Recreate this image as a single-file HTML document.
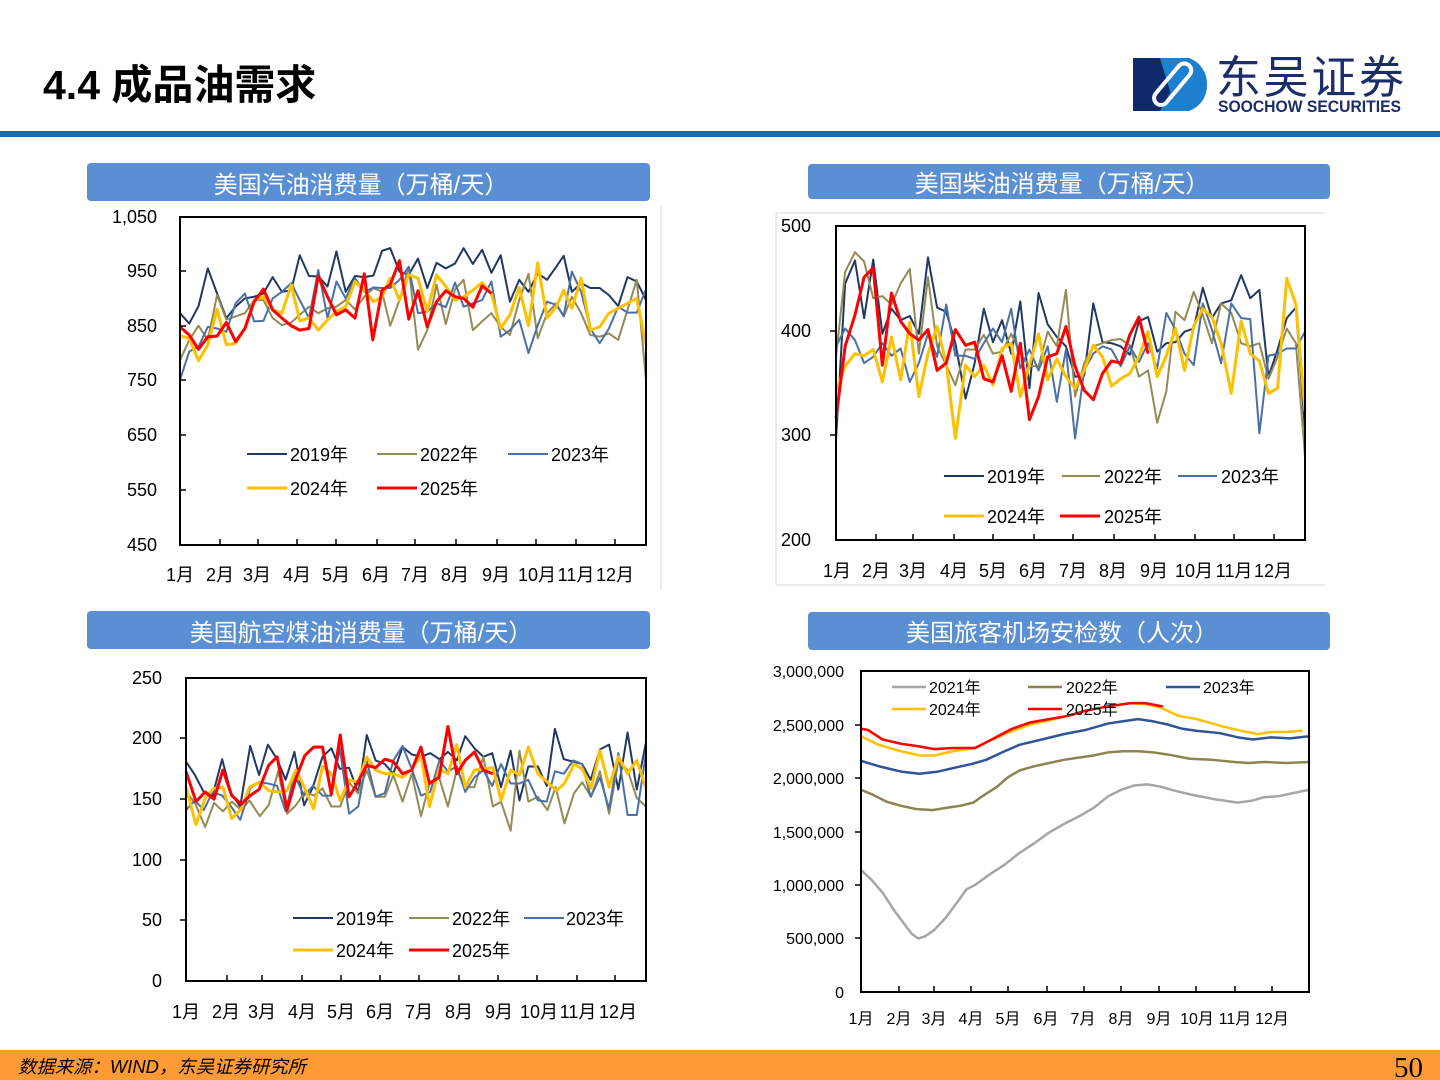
<!DOCTYPE html>
<html><head><meta charset="utf-8">
<style>
html,body{margin:0;padding:0;background:#fff;}
body{width:1440px;height:1080px;position:relative;overflow:hidden;font-family:"Liberation Sans","Noto Sans CJK SC",sans-serif;}
svg text{font-family:"Liberation Sans","Noto Sans CJK SC",sans-serif;}
</style></head><body>
<svg width="1440" height="1080" viewBox="0 0 1440 1080" xmlns="http://www.w3.org/2000/svg" style="position:absolute;left:0;top:0">
<!-- header -->
<text x="43" y="99" font-size="41" font-weight="bold" fill="#000">4.4 成品油需求</text>
<rect x="0" y="131" width="1440" height="6" fill="#0a6fc0"/>
<!-- logo -->
<rect x="1133" y="58" width="56" height="53" fill="#0e2a6b"/>
<path d="M1176 58 A27 27 0 0 1 1176 111 L1160 111 L1189 58 Z" fill="#1c7fd0"/>
<path d="M1160 58 L1189 58 A27 27 0 0 1 1207 84 A27 27 0 0 1 1189 111 L1176 111 Z" fill="#1c7fd0"/>
<g transform="rotate(-50 1172 85)">
<rect x="1148" y="78" width="50" height="14" rx="7" fill="none" stroke="#fff" stroke-width="4"/>
</g>
<text x="1216" y="93" font-size="45" fill="#1b2d6b" font-family="Noto Sans CJK SC, sans-serif" textLength="188">东吴证券</text>
<text x="1218" y="112" font-size="17" font-weight="bold" fill="#1b2d6b" textLength="183" lengthAdjust="spacingAndGlyphs">SOOCHOW SECURITIES</text>

<!-- title bars -->
<rect x="87" y="163" width="563" height="38" rx="4" fill="#5b8fd4"/>
<text x="361" y="193" font-size="24" fill="#fff" text-anchor="middle">美国汽油消费量（万桶/天）</text>
<rect x="808" y="164" width="522" height="35" rx="4" fill="#5b8fd4"/>
<text x="1062" y="192" font-size="24" fill="#fff" text-anchor="middle">美国柴油消费量（万桶/天）</text>
<rect x="87" y="611" width="563" height="38" rx="4" fill="#5b8fd4"/>
<text x="361" y="641" font-size="24" fill="#fff" text-anchor="middle">美国航空煤油消费量（万桶/天）</text>
<rect x="808" y="612" width="522" height="38" rx="4" fill="#5b8fd4"/>
<text x="1062" y="641" font-size="24" fill="#fff" text-anchor="middle">美国旅客机场安检数（人次）</text>

<!-- frames -->
<line x1="661" y1="205" x2="661" y2="590" stroke="#d9d9d9" stroke-width="1"/>
<path d="M776 213 H1325 M776 213 V585 M776 585 H1325" stroke="#d9d9d9" stroke-width="1" fill="none"/>

<!-- ================= CHART 1 ================= -->
<g font-size="18" fill="#000">
<text x="157" y="223" text-anchor="end">1,050</text>
<text x="157" y="277" text-anchor="end">950</text>
<text x="157" y="332" text-anchor="end">850</text>
<text x="157" y="386" text-anchor="end">750</text>
<text x="157" y="441" text-anchor="end">650</text>
<text x="157" y="496" text-anchor="end">550</text>
<text x="157" y="551" text-anchor="end">450</text>
</g>
<g font-size="18" fill="#000" text-anchor="middle">
<text x="180" y="581">1月</text><text x="220" y="581">2月</text><text x="257" y="581">3月</text><text x="297" y="581">4月</text><text x="336" y="581">5月</text><text x="376" y="581">6月</text><text x="415" y="581">7月</text><text x="455" y="581">8月</text><text x="496" y="581">9月</text><text x="537" y="581">10月</text><text x="576" y="581">11月</text><text x="615" y="581">12月</text>
</g>
<g fill="none" stroke-linejoin="round" transform="matrix(0.37073 0 0 -0.5467 89.91 791.0)">
<polyline vector-effect="non-scaling-stroke" stroke="#1f3864" stroke-width="2" points="243,874 268,855 293,887 318,956 343,910 368,865 393,886 418,901 443,904 468,910 493,940 518,913 543,916 566,980 591,942 616,941 641,923 665,987 690,913 715,942 740,940 765,943 788,988 810,993 835,950 860,944 885,974 910,920 935,966 960,956 985,965 1008,993 1033,964 1058,990 1083,948 1108,980 1133,895 1158,935 1183,913 1208,947 1233,935 1258,959 1278,979 1300,913 1325,929 1350,920 1375,920 1400,907 1425,887 1450,940 1475,932 1500,898"/>
<polyline vector-effect="non-scaling-stroke" stroke="#948a54" stroke-width="2" points="243,788 268,825 293,851 318,825 343,907 368,862 393,868 418,874 443,898 468,898 493,865 518,852 543,857 566,871 591,886 616,874 641,883 665,886 690,898 715,881 740,904 765,920 788,913 810,851 835,898 860,959 885,807 910,843 935,926 960,854 985,918 1008,935 1033,843 1058,859 1083,874 1108,849 1133,834 1158,898 1183,946 1208,828 1233,874 1258,892 1278,868 1300,904 1325,874 1350,834 1375,831 1400,837 1425,825 1450,880 1475,935 1500,752"/>
<polyline vector-effect="non-scaling-stroke" stroke="#4a70a8" stroke-width="2" points="243,752 268,804 293,813 318,849 343,846 368,840 393,892 418,910 443,859 468,860 493,901 518,913 543,929 566,898 591,865 616,953 641,865 665,932 690,901 715,938 740,913 765,921 788,920 810,920 835,935 860,959 885,874 910,877 935,892 960,885 985,930 1008,886 1033,892 1058,898 1083,932 1108,831 1133,843 1158,862 1183,801 1208,852 1233,895 1258,889 1278,869 1300,950 1325,913 1350,846 1375,819 1400,846 1425,886 1450,875 1475,875 1500,918"/>
<polyline vector-effect="non-scaling-stroke" stroke="#ffc000" stroke-width="3" points="243,832 268,828 293,787 318,816 343,881 368,816 393,819 418,846 443,898 468,904 493,880 518,874 543,926 566,860 591,865 616,843 641,862 665,877 690,886 715,932 740,916 765,895 788,904 810,938 835,898 860,944 885,938 910,877 935,944 960,923 985,898 1008,904 1033,916 1058,930 1083,910 1108,846 1133,871 1158,921 1183,851 1208,966 1233,865 1258,886 1278,916 1300,883 1325,938 1350,843 1375,849 1400,874 1425,883 1450,892 1475,901 1500,816"/>
<polyline vector-effect="non-scaling-stroke" stroke="#ff0000" stroke-width="3" points="243,849 268,834 293,808 318,831 343,832 368,857 393,822 418,846 443,895 468,918 493,880 518,865 543,851 566,843 591,846 616,942 641,904 665,871 690,880 715,865 740,946 763,825 788,916 810,926 835,970 860,863 885,915 910,849 935,895 960,915 985,904 1008,901 1033,885 1058,924 1083,910"/>
</g>
<rect x="180" y="217" width="466" height="328" fill="none" stroke="#000" stroke-width="2"/>
<path d="M220 545v-6M258 545v-6M297 545v-6M336 545v-6M377 545v-6M415 545v-6M456 545v-6M497 545v-6M536 545v-6M576 545v-6M615 545v-6M180 271h6M180 326h6M180 380h6M180 435h6M180 490h6" stroke="#000" stroke-width="1.5"/>
<g font-size="18" fill="#000">
<line x1="247" y1="454" x2="287" y2="454" stroke="#1f3864" stroke-width="2"/><text x="290" y="461">2019年</text>
<line x1="377" y1="454" x2="417" y2="454" stroke="#948a54" stroke-width="2"/><text x="420" y="461">2022年</text>
<line x1="508" y1="454" x2="548" y2="454" stroke="#4a70a8" stroke-width="2"/><text x="551" y="461">2023年</text>
<line x1="247" y1="488" x2="287" y2="488" stroke="#ffc000" stroke-width="3"/><text x="290" y="495">2024年</text>
<line x1="377" y1="488" x2="417" y2="488" stroke="#ff0000" stroke-width="3"/><text x="420" y="495">2025年</text>
</g>

<!-- ================= CHART 2 ================= -->
<g font-size="18" fill="#000">
<text x="781" y="232">500</text>
<text x="781" y="337">400</text>
<text x="781" y="441">300</text>
<text x="781" y="546">200</text>
</g>
<g font-size="18" fill="#000" text-anchor="middle">
<text x="837" y="577">1月</text><text x="876" y="577">2月</text><text x="913" y="577">3月</text><text x="954" y="577">4月</text><text x="993" y="577">5月</text><text x="1033" y="577">6月</text><text x="1073" y="577">7月</text><text x="1113" y="577">8月</text><text x="1154" y="577">9月</text><text x="1194" y="577">10月</text><text x="1234" y="577">11月</text><text x="1273" y="577">12月</text>
</g>
<g fill="none" stroke-linejoin="round" transform="matrix(0.36498 0 0 -1.0467 768.48 749.33)">
<polyline vector-effect="non-scaling-stroke" stroke="#1f3864" stroke-width="2" points="185,296 210,445 237,467 262,412 287,468 312,397 337,421 362,410 387,414 412,397 437,470 462,422 487,418 512,388 540,335 565,369 590,421 615,389 640,410 665,378 690,428 715,345 740,436 765,406 790,394 815,385 840,356 865,357 890,426 915,389 940,388 965,385 990,377 1015,409 1040,413 1065,380 1090,388 1115,389 1140,399 1165,402 1190,441 1215,412 1240,426 1268,429 1295,453 1320,431 1345,439 1370,356 1395,382 1420,412 1445,422 1470,305"/>
<polyline vector-effect="non-scaling-stroke" stroke="#948a54" stroke-width="2" points="185,375 210,456 237,475 262,466 287,431 312,433 337,425 362,445 387,459 412,378 437,451 462,385 487,367 512,348 540,382 565,382 590,396 615,378 640,380 665,397 690,378 715,366 740,366 765,399 790,385 815,439 840,337 865,369 890,385 915,388 940,391 965,392 990,386 1015,356 1040,362 1065,312 1090,342 1115,418 1140,410 1165,437 1190,415 1215,388 1240,426 1268,417 1295,388 1320,385 1345,388 1370,354 1395,375 1420,402 1445,388 1470,280"/>
<polyline vector-effect="non-scaling-stroke" stroke="#4a70a8" stroke-width="2" points="185,385 210,402 237,391 262,369 287,375 312,388 337,376 362,383 387,351 412,369 437,397 462,375 487,425 512,376 540,376 565,373 590,388 615,402 640,389 665,421 690,364 715,382 740,362 765,385 790,332 815,382 840,297 865,362 890,378 915,385 940,382 965,366 990,385 1015,370 1040,388 1065,364 1090,417 1115,401 1140,378 1165,367 1190,426 1215,401 1240,369 1268,426 1295,412 1320,411 1345,302 1370,376 1395,378 1420,383 1445,383 1470,399"/>
<polyline vector-effect="non-scaling-stroke" stroke="#ffc000" stroke-width="3" points="185,343 210,366 237,378 262,376 287,382 312,351 337,394 362,353 387,408 412,337 437,378 462,404 487,369 512,297 540,367 565,356 590,367 615,348 640,383 665,388 690,337 715,367 740,397 765,353 790,373 815,356 840,345 865,362 890,386 915,375 940,347 965,354 990,359 1015,375 1040,399 1065,356 1090,376 1115,402 1140,362 1165,404 1190,421 1215,413 1240,388 1268,340 1295,409 1320,378 1345,371 1370,340 1395,345 1420,450 1445,425 1470,323"/>
<polyline vector-effect="non-scaling-stroke" stroke="#ff0000" stroke-width="3" points="185,316 210,385 237,415 262,451 287,460 312,367 337,436 362,409 387,397 412,391 437,401 462,362 487,369 512,401 540,386 565,389 590,354 615,351 640,376 665,342 690,388 715,315 740,337 765,375 790,378 815,404 840,366 865,343 890,334 915,359 940,371 965,369 990,396 1015,413 1040,378"/>
</g>
<rect x="836" y="226" width="469" height="314" fill="none" stroke="#000" stroke-width="2"/>
<path d="M876 540v-6M913 540v-6M954 540v-6M993 540v-6M1034 540v-6M1073 540v-6M1114 540v-6M1155 540v-6M1195 540v-6M1234 540v-6M1274 540v-6M830 331h6M830 435h6" stroke="#000" stroke-width="1.5"/>
<g font-size="18" fill="#000">
<line x1="944" y1="476" x2="984" y2="476" stroke="#1f3864" stroke-width="2"/><text x="987" y="483">2019年</text>
<line x1="1062" y1="476" x2="1100" y2="476" stroke="#948a54" stroke-width="2"/><text x="1104" y="483">2022年</text>
<line x1="1178" y1="476" x2="1217" y2="476" stroke="#4a70a8" stroke-width="2"/><text x="1221" y="483">2023年</text>
<line x1="944" y1="516" x2="984" y2="516" stroke="#ffc000" stroke-width="3"/><text x="987" y="523">2024年</text>
<line x1="1060" y1="516" x2="1100" y2="516" stroke="#ff0000" stroke-width="3"/><text x="1104" y="523">2025年</text>
</g>

<!-- ================= CHART 3 ================= -->
<g font-size="18" fill="#000">
<text x="162" y="684" text-anchor="end">250</text>
<text x="162" y="744" text-anchor="end">200</text>
<text x="162" y="805" text-anchor="end">150</text>
<text x="162" y="866" text-anchor="end">100</text>
<text x="162" y="926" text-anchor="end">50</text>
<text x="162" y="987" text-anchor="end">0</text>
</g>
<g font-size="18" fill="#000" text-anchor="middle">
<text x="186" y="1018">1月</text><text x="226" y="1018">2月</text><text x="262" y="1018">3月</text><text x="302" y="1018">4月</text><text x="341" y="1018">5月</text><text x="380" y="1018">6月</text><text x="419" y="1018">7月</text><text x="459" y="1018">8月</text><text x="499" y="1018">9月</text><text x="539" y="1018">10月</text><text x="578" y="1018">11月</text><text x="618" y="1018">12月</text>
</g>
<g fill="none" stroke-linejoin="round" transform="matrix(0.36889 0 0 -1.212 90.83 981)">
<polyline vector-effect="non-scaling-stroke" stroke="#1f3864" stroke-width="2" points="258,181 282,170 306,156 330,153 356,183 380,155 405,144 432,194 456,170 480,195 505,183 528,166 552,189 578,145 602,160 628,185 652,192 675,175 700,176 725,155 748,203 772,182 797,179 820,171 845,193 870,187 895,185 920,188 945,183 968,189 992,182 1015,202 1040,192 1064,185 1088,188 1112,160 1138,190 1162,149 1186,177 1212,177 1236,161 1258,208 1282,183 1308,181 1332,179 1355,166 1380,191 1405,195 1430,158 1455,205 1480,158 1505,197"/>
<polyline vector-effect="non-scaling-stroke" stroke="#948a54" stroke-width="2" points="258,156 282,147 310,127 334,147 358,140 382,148 408,141 430,149 458,136 482,145 508,173 532,138 556,145 580,156 605,153 628,159 652,144 676,144 700,164 724,155 748,174 772,152 797,152 820,170 845,148 870,171 895,136 918,163 944,168 968,144 992,174 1015,160 1040,160 1064,185 1090,144 1112,148 1138,124 1162,190 1186,148 1212,152 1238,141 1260,160 1284,130 1310,155 1332,164 1356,152 1380,173 1405,138 1430,181 1455,174 1480,151 1505,144"/>
<polyline vector-effect="non-scaling-stroke" stroke="#4a70a8" stroke-width="2" points="258,141 282,149 306,141 330,156 356,153 380,144 405,133 432,159 456,164 480,163 505,161 528,140 552,170 578,153 602,161 628,153 652,153 675,192 700,138 725,144 748,182 772,152 797,155 820,182 845,194 870,175 895,153 920,156 945,182 968,173 992,177 1015,156 1040,168 1064,174 1088,161 1112,179 1138,163 1162,163 1186,166 1212,149 1236,148 1258,173 1282,171 1308,182 1332,179 1355,152 1380,168 1405,142 1430,188 1455,137 1480,137 1505,188"/>
<polyline vector-effect="non-scaling-stroke" stroke="#ffc000" stroke-width="3" points="258,160 285,129 310,151 334,159 358,160 382,134 408,142 430,160 458,164 482,157 508,156 532,157 556,174 580,159 604,142 628,177 652,171 676,149 700,166 724,164 748,185 772,174 797,171 820,171 845,168 870,175 895,186 918,144 944,175 968,171 992,195 1015,160 1040,174 1064,175 1090,176 1112,149 1138,174 1162,170 1186,193 1212,171 1238,164 1262,157 1284,163 1310,179 1332,175 1356,159 1380,190 1405,160 1430,185 1455,171 1480,182 1505,159"/>
<polyline vector-effect="non-scaling-stroke" stroke="#ff0000" stroke-width="3" points="258,173 285,148 310,156 334,150 358,174 382,153 408,146 432,153 456,158 482,178 505,185 532,141 556,167 580,186 604,193 628,193 652,154 676,203 700,152 724,164 748,178 772,176 797,183 820,181 845,171 870,174 895,193 918,163 944,168 968,210 992,171 1015,182 1040,189 1064,174 1090,171"/>
</g>
<rect x="186" y="678" width="460" height="303" fill="none" stroke="#000" stroke-width="2"/>
<path d="M227 981v-6M262 981v-6M302 981v-6M341 981v-6M380 981v-6M419 981v-6M459 981v-6M498 981v-6M537 981v-6M577 981v-6M615 981v-6M180 738h6M180 799h6M180 860h6M180 920h6" stroke="#000" stroke-width="1.5"/>
<g font-size="18" fill="#000">
<line x1="293" y1="918" x2="333" y2="918" stroke="#1f3864" stroke-width="2"/><text x="336" y="925">2019年</text>
<line x1="409" y1="918" x2="449" y2="918" stroke="#948a54" stroke-width="2"/><text x="452" y="925">2022年</text>
<line x1="524" y1="918" x2="564" y2="918" stroke="#4a70a8" stroke-width="2"/><text x="566" y="925">2023年</text>
<line x1="293" y1="950" x2="333" y2="950" stroke="#ffc000" stroke-width="3"/><text x="336" y="957">2024年</text>
<line x1="409" y1="950" x2="449" y2="950" stroke="#ff0000" stroke-width="3"/><text x="452" y="957">2025年</text>
</g>

<!-- ================= CHART 4 ================= -->
<g font-size="16" fill="#000">
<text x="844" y="677" text-anchor="end">3,000,000</text>
<text x="844" y="731" text-anchor="end">2,500,000</text>
<text x="844" y="784" text-anchor="end">2,000,000</text>
<text x="844" y="838" text-anchor="end">1,500,000</text>
<text x="844" y="891" text-anchor="end">1,000,000</text>
<text x="844" y="944" text-anchor="end">500,000</text>
<text x="844" y="998" text-anchor="end">0</text>
</g>
<g font-size="16" fill="#000" text-anchor="middle">
<text x="861" y="1024">1月</text><text x="899" y="1024">2月</text><text x="934" y="1024">3月</text><text x="971" y="1024">4月</text><text x="1008" y="1024">5月</text><text x="1046" y="1024">6月</text><text x="1083" y="1024">7月</text><text x="1121" y="1024">8月</text><text x="1159" y="1024">9月</text><text x="1197" y="1024">10月</text><text x="1235" y="1024">11月</text><text x="1272" y="1024">12月</text>
</g>
<g fill="none" stroke-linejoin="round" stroke-linecap="round" transform="matrix(0.37025 0 0 -107 861 992)">
<polyline vector-effect="non-scaling-stroke" stroke="#a6a6a6" stroke-width="2.5" points="0,1.14 28,1.05 58,0.93 88,0.77 118,0.63 138,0.54 155,0.50 173,0.52 198,0.58 228,0.69 258,0.83 285,0.96 308,1.00 348,1.10 388,1.19 428,1.30 468,1.39 508,1.49 548,1.57 588,1.64 628,1.72 668,1.83 703,1.89 738,1.93 773,1.94 808,1.92 848,1.88 898,1.84 958,1.80 1018,1.77 1058,1.79 1088,1.82 1128,1.83 1168,1.86 1210,1.89"/>
<polyline vector-effect="non-scaling-stroke" stroke="#8c8451" stroke-width="2.5" points="0,1.89 28,1.85 68,1.78 108,1.74 148,1.71 193,1.70 228,1.72 268,1.74 303,1.77 328,1.83 368,1.92 398,2.01 428,2.07 468,2.11 508,2.14 548,2.17 588,2.19 628,2.21 668,2.24 708,2.25 748,2.25 788,2.24 828,2.22 888,2.18 948,2.17 1008,2.15 1048,2.14 1088,2.15 1148,2.14 1210,2.15"/>
<polyline vector-effect="non-scaling-stroke" stroke="#2f5597" stroke-width="2.5" points="0,2.16 48,2.11 108,2.06 158,2.04 208,2.06 258,2.10 298,2.13 338,2.17 388,2.25 428,2.31 488,2.36 548,2.41 608,2.45 668,2.51 708,2.53 748,2.55 788,2.53 828,2.50 868,2.46 908,2.44 968,2.42 1018,2.38 1058,2.36 1108,2.38 1158,2.37 1210,2.39"/>
<polyline vector-effect="non-scaling-stroke" stroke="#ffc000" stroke-width="2.5" points="0,2.39 48,2.31 108,2.25 158,2.21 198,2.21 248,2.25 308,2.28 348,2.35 408,2.44 458,2.50 508,2.54 558,2.58 608,2.63 668,2.67 728,2.70 768,2.69 808,2.66 858,2.58 908,2.55 968,2.49 1028,2.44 1073,2.41 1108,2.43 1148,2.43 1190,2.44"/>
<polyline vector-effect="non-scaling-stroke" stroke="#ff0000" stroke-width="2.5" points="0,2.46 18,2.45 58,2.36 108,2.32 148,2.30 198,2.27 248,2.28 308,2.28 348,2.35 408,2.46 458,2.52 508,2.55 558,2.58 608,2.63 668,2.67 728,2.70 768,2.70 813,2.67"/>
</g>
<rect x="861" y="671" width="448" height="321" fill="none" stroke="#000" stroke-width="2"/>
<path d="M899 992v-6M934 992v-6M971 992v-6M1008 992v-6M1047 992v-6M1084 992v-6M1121 992v-6M1159 992v-6M1196 992v-6M1235 992v-6M1272 992v-6M855 725h6M855 778h6M855 832h6M855 885h6M855 938h6" stroke="#000" stroke-width="1.5"/>
<g font-size="16" fill="#000">
<line x1="892" y1="687" x2="926" y2="687" stroke="#a6a6a6" stroke-width="2.5"/><text x="929" y="693">2021年</text>
<line x1="1028" y1="687" x2="1062" y2="687" stroke="#8c8451" stroke-width="2.5"/><text x="1066" y="693">2022年</text>
<line x1="1166" y1="687" x2="1200" y2="687" stroke="#2f5597" stroke-width="2.5"/><text x="1203" y="693">2023年</text>
<line x1="892" y1="709" x2="926" y2="709" stroke="#ffc000" stroke-width="2.5"/><text x="929" y="715">2024年</text>
<line x1="1028" y1="709" x2="1062" y2="709" stroke="#ff0000" stroke-width="2.5"/><text x="1066" y="715">2025年</text>
</g>

<!-- footer -->
<rect x="0" y="1050" width="1440" height="30" fill="#ff9a35"/>
<text x="18" y="1073" font-size="18" font-style="italic" fill="#000" textLength="288" lengthAdjust="spacingAndGlyphs">数据来源：WIND，东吴证券研究所</text>
<text x="1423" y="1077" font-size="29" fill="#000" text-anchor="end" style="font-family:'Liberation Serif',serif">50</text>
</svg>
</body></html>
